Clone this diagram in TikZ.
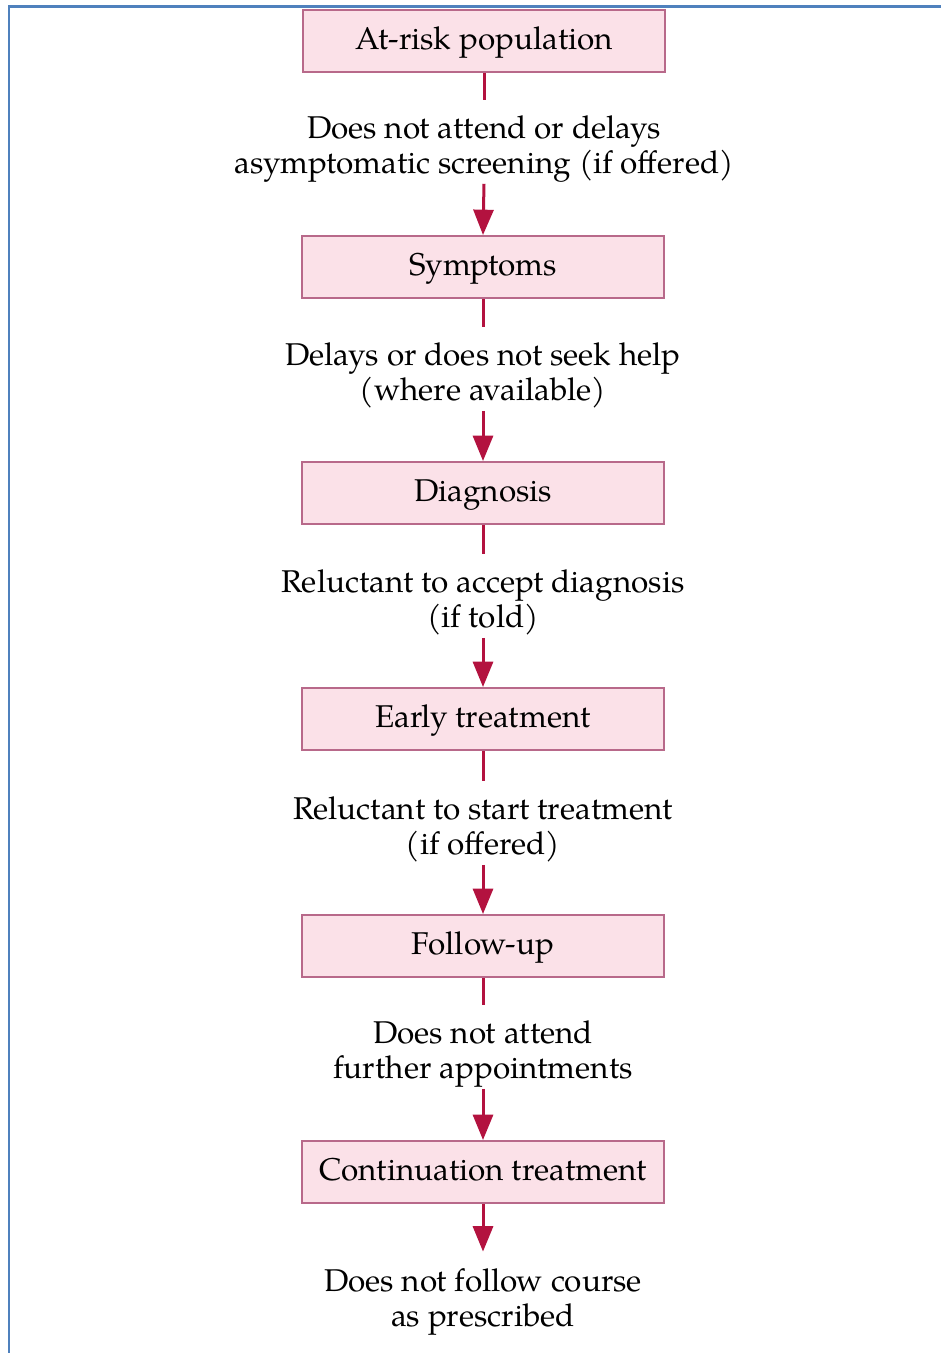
\documentclass[tikz,border=0pt]{standalone}
\usepackage{fontspec}
\setmainfont{TeX Gyre Pagella}
\usetikzlibrary{arrows.meta}
\definecolor{framebl}{HTML}{4F81BD}
\definecolor{boxfill}{HTML}{FBE1E8}
\definecolor{boxline}{HTML}{B8698A}
\definecolor{flow}{HTML}{B3123F}
\tikzset{
  stepbox/.style={draw=boxline, fill=boxfill, line width=1.5pt,
    minimum width=272pt, minimum height=46.5pt, inner sep=0pt,
    text height=19.5pt, text depth=6.75pt,
    font=\fontsize{23.6}{26.25}\selectfont},
  reason/.style={align=center, inner sep=0pt,
    font=\fontsize{23.6}{26.25}\selectfont},
  stem/.style={flow, line width=2.25pt},
  flowarrow/.style={flow, line width=2.25pt, -{Triangle[width=15pt,length=19pt]}},
}
\begin{document}
\begin{tikzpicture}[x=0.75pt, y=-0.75pt]
\useasboundingbox (0,0) rectangle (941,1353);
% frame on the top and left sides
\draw[framebl, line width=1.9pt] (9,1353) -- (9,6.5) -- (941,6.5);

% stages
\node[stepbox] (b1) at (484,41)   {At-risk population};
\node[stepbox] (b2) at (483,267)  {Symptoms};
\node[stepbox] (b3) at (483,493)  {Diagnosis};
\node[stepbox] (b4) at (483,719)  {Early treatment};
\node[stepbox] (b5) at (483,946)  {Follow-up};
\node[stepbox] (b6) at (483,1172) {Continuation treatment};

% reasons for dropping out between stages (struts fix the line boxes)
\node[reason] (r1) at (484,148.5)  {\strut Does not attend or delays\\asymptomatic screening (if offered)\strut};
\node[reason] (r2) at (483,375.5)  {\strut Delays or does not seek help\\(where available)\strut};
\node[reason] (r3) at (483,602.5)  {\strut Reluctant to accept diagnosis\\(if told)\strut};
\node[reason] (r4) at (483,829.5)  {\strut Reluctant to start treatment\\(if offered)\strut};
\node[reason] (r5) at (483,1053.5) {\strut Does not attend\\further appointments\strut};
\node[reason] (r6) at (483,1301.5) {\strut Does not follow course\\as prescribed\strut};

% connectors
\foreach \a/\b in {1/2,2/3,3/4,4/5,5/6}{
  \draw[stem] (b\a.south) -- ([yshift=10pt]r\a.north);
  \draw[flowarrow] (r\a.south) -- (b\b.north);
}
\draw[flowarrow] (b6.south) -- ([yshift=11pt]r6.north);
\end{tikzpicture}
\end{document}
